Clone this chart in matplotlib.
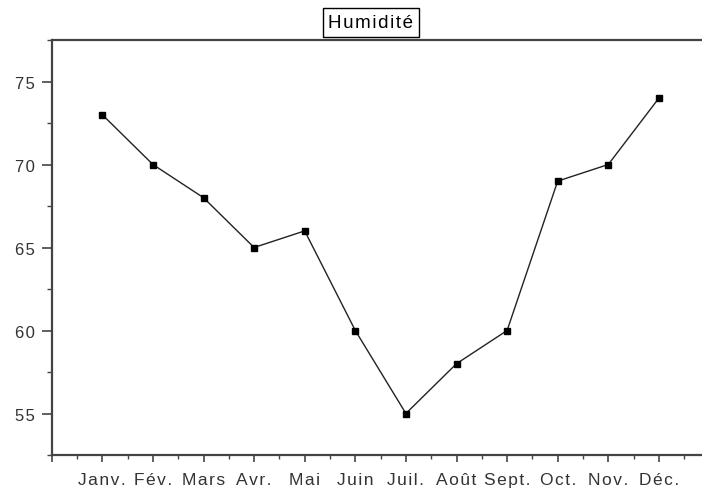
import matplotlib
matplotlib.use("Agg")
import matplotlib.pyplot as plt
import numpy as np
from matplotlib.ticker import MultipleLocator, FuncFormatter

# humidité moyenne mensuelle (%)
mois = ["Janv.", "Fév.", "Mars", "Avr.", "Mai", "Juin",
        "Juil.", "Août", "Sept.", "Oct.", "Nov.", "Déc."]
humidite = [73, 70, 68, 65, 66, 60, 55, 58, 60, 69, 70, 74]

plt.rcParams['font.family'] = ['Liberation Sans', 'DejaVu Sans']


def espace(s):
    # lettres un peu écartées, façon Origin
    return '\u200a'.join(s)


fig = plt.figure(figsize=(7.02, 4.89), dpi=100)
ax = fig.add_axes([51.7 / 702, 33 / 489, 13 * 50.6 / 702, 415 / 489])

x = np.arange(1, len(mois) + 1)
ax.plot(x, humidite, color='#222222', lw=1.0, marker='s', ms=4.5,
        mfc='black', mec='black')

ax.set_xlim(0, 13)
ax.set_ylim(52.5, 77.5)

ax.set_xticks(np.arange(0, 14))
ax.set_xticklabels([''] + [espace(m) for m in mois] + [''])
ax.xaxis.set_minor_locator(MultipleLocator(0.5))
ax.set_yticks([55, 60, 65, 70, 75])
ax.yaxis.set_major_formatter(FuncFormatter(lambda v, p: espace('%d' % v)))
ax.yaxis.set_minor_locator(MultipleLocator(2.5))

for s in ['left', 'bottom', 'top']:
    ax.spines[s].set_linewidth(1.6)
    ax.spines[s].set_color('#444444')
ax.spines['right'].set_visible(False)

ax.tick_params(axis='y', which='major', length=7, width=1.2, pad=5,
               labelsize=12, labelcolor='#333333', color='#444444')
ax.tick_params(axis='y', which='minor', length=3.6, width=1.0, color='#444444')
ax.tick_params(axis='x', which='major', length=5, width=1.2, pad=7.5,
               labelsize=12.5, labelcolor='#333333', color='#444444')
ax.tick_params(axis='x', which='minor', length=3, width=1.0, color='#444444')

fig.text(371 / 702, 1 - 23.5 / 489, espace("Humidité"), ha='center',
         va='center', fontsize=13.5, color='black',
         bbox=dict(boxstyle='square,pad=0.3', fc='white', ec='black', lw=1))

fig.savefig("out.png", dpi=100)
